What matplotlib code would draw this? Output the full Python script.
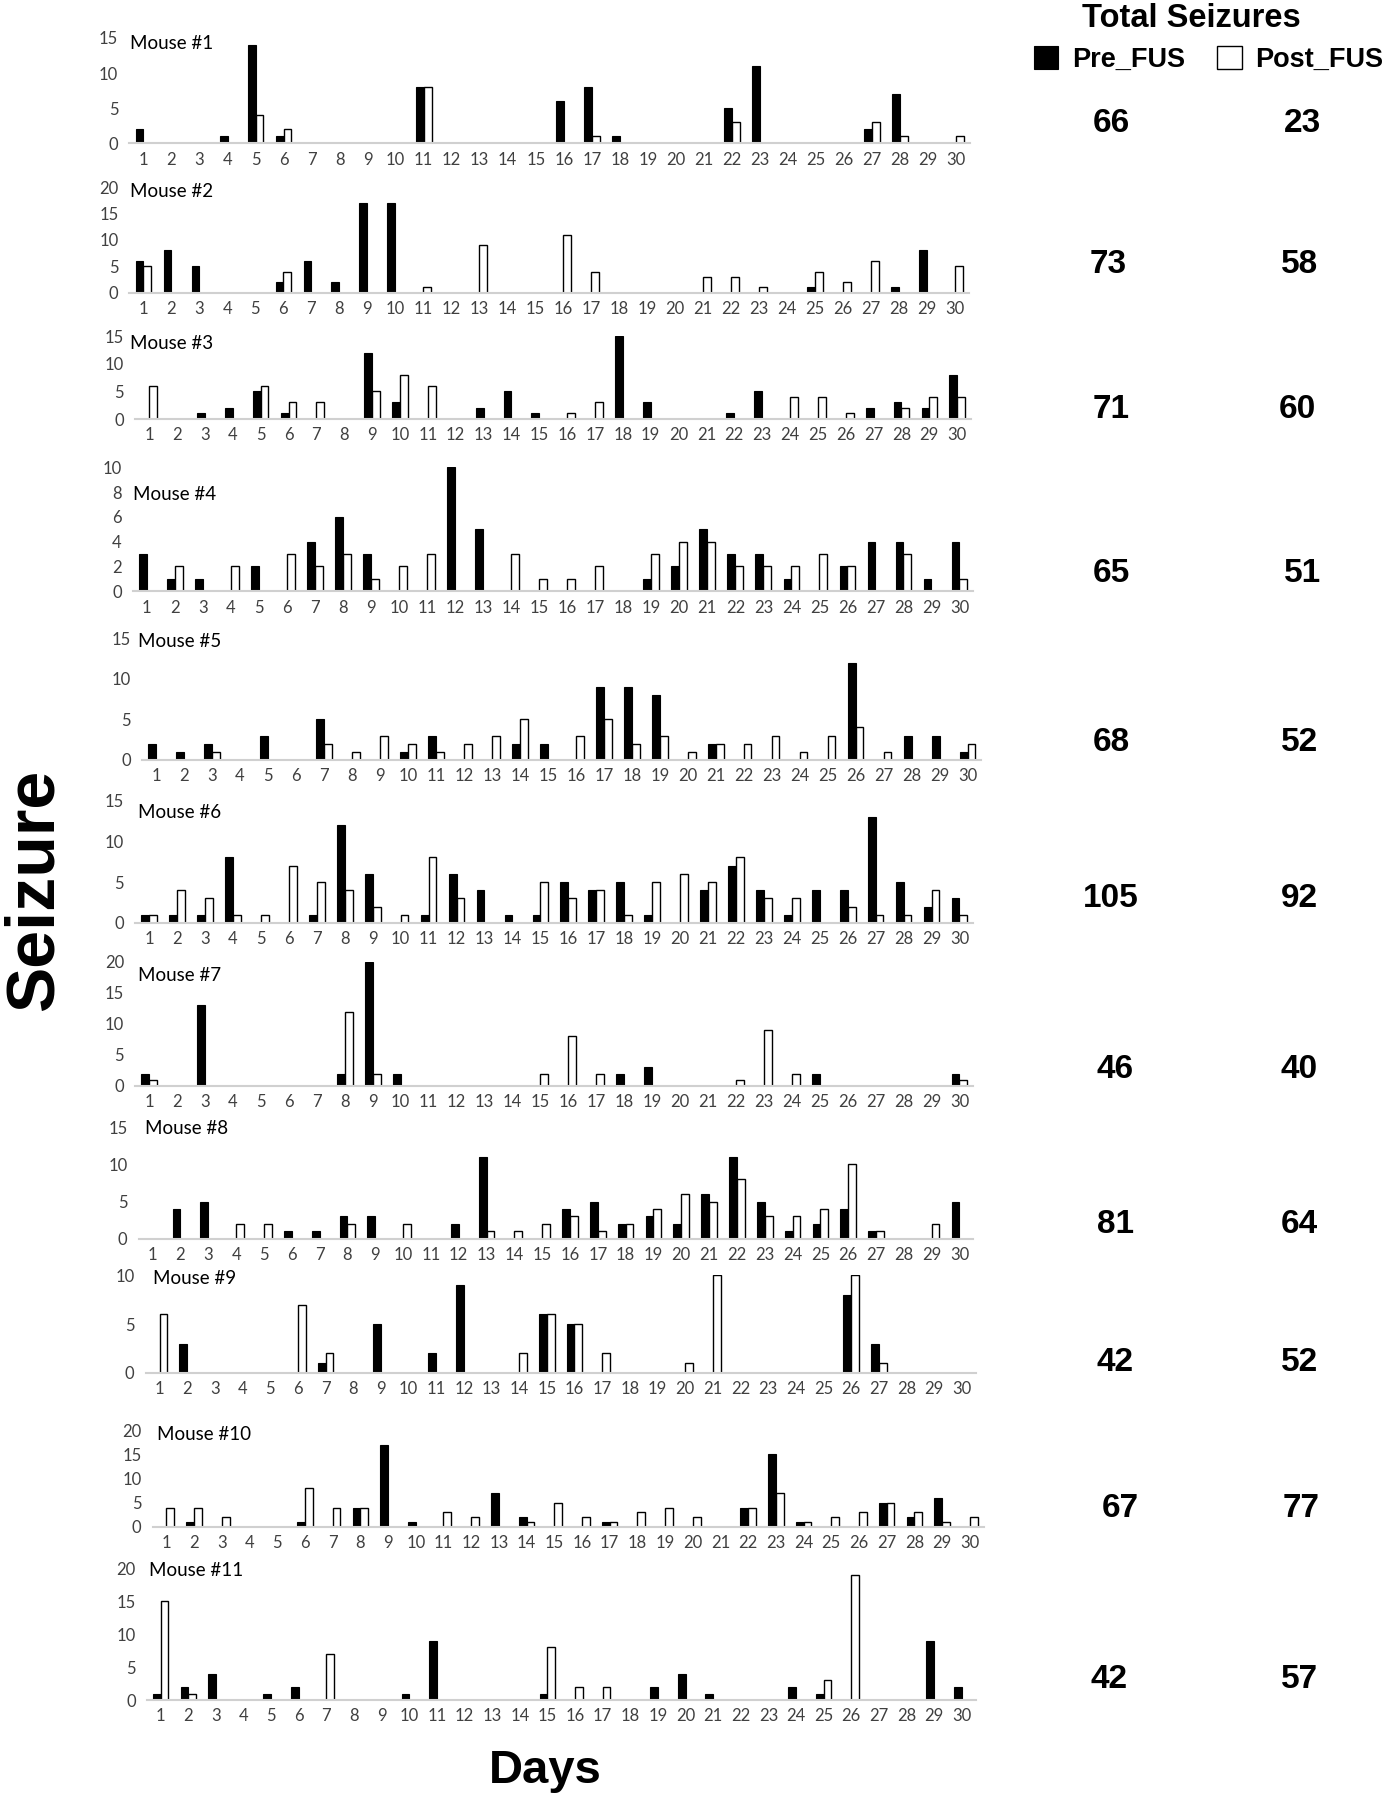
import matplotlib
matplotlib.use('Agg')
import matplotlib.pyplot as plt
import numpy as np

days = list(range(1, 31))
mice = ['Mouse #1', 'Mouse #2', 'Mouse #3', 'Mouse #4', 'Mouse #5', 'Mouse #6',
        'Mouse #7', 'Mouse #8', 'Mouse #9', 'Mouse #10', 'Mouse #11']

# daily seizure counts, day 1..30
pre_fus = [
    [2,0,0,1,14,1,0,0,0,0, 8,0,0,0,0,6,8,1,0,0, 0,5,11,0,0,0,2,7,0,0],
    [6,8,5,0,0,2,6,2,17,17, 0,0,0,0,0,0,0,0,0,0, 0,0,0,0,1,0,0,1,8,0],
    [0,0,1,2,5,1,0,0,12,3, 0,0,2,5,1,0,0,15,3,0, 0,1,5,0,0,0,2,3,2,8],
    [3,1,1,0,2,0,4,6,3,0, 0,10,5,0,0,0,0,0,1,2, 5,3,3,1,0,2,4,4,1,4],
    [2,1,2,0,3,0,5,0,0,1, 3,0,0,2,2,0,9,9,8,0, 2,0,0,0,0,12,0,3,3,1],
    [1,1,1,8,0,0,1,12,6,0, 1,6,4,1,1,5,4,5,1,0, 4,7,4,1,4,4,13,5,2,3],
    [2,0,13,0,0,0,0,2,20,2, 0,0,0,0,0,0,0,2,3,0, 0,0,0,0,2,0,0,0,0,2],
    [0,4,5,0,0,1,1,3,3,0, 0,2,11,0,0,4,5,2,3,2, 6,11,5,1,2,4,1,0,0,5],
    [0,3,0,0,0,0,1,0,5,0, 2,9,0,0,6,5,0,0,0,0, 0,0,0,0,0,8,3,0,0,0],
    [0,1,0,0,0,1,0,4,17,1, 0,0,7,2,0,0,1,0,0,0, 0,4,15,1,0,0,5,2,6,0],
    [1,2,4,0,1,2,0,0,0,1, 9,0,0,0,1,0,0,0,2,4, 1,0,0,2,1,0,0,0,9,2],
]
post_fus = [
    [0,0,0,0,4,2,0,0,0,0, 8,0,0,0,0,0,1,0,0,0, 0,3,0,0,0,0,3,1,0,1],
    [5,0,0,0,0,4,0,0,0,0, 1,0,9,0,0,11,4,0,0,0, 3,3,1,0,4,2,6,0,0,5],
    [6,0,0,0,6,3,3,0,5,8, 6,0,0,0,0,1,3,0,0,0, 0,0,0,4,4,1,0,2,4,4],
    [0,2,0,2,0,3,2,3,1,2, 3,0,0,3,1,1,2,0,3,4, 4,2,2,2,3,2,0,3,0,1],
    [0,0,1,0,0,0,2,1,3,2, 1,2,3,5,0,3,5,2,3,1, 2,2,3,1,3,4,1,0,0,2],
    [1,4,3,1,1,7,5,4,2,1, 8,3,0,0,5,3,4,1,5,6, 5,8,3,3,0,2,1,1,4,1],
    [1,0,0,0,0,0,0,12,2,0, 0,0,0,0,2,8,2,0,0,0, 0,1,9,2,0,0,0,0,0,1],
    [0,0,0,2,2,0,0,2,0,2, 0,0,1,1,2,3,1,2,4,6, 5,8,3,3,4,10,1,0,2,0],
    [6,0,0,0,0,7,2,0,0,0, 0,0,0,2,6,5,2,0,0,1, 10,0,0,0,0,10,1,0,0,0],
    [4,4,2,0,0,8,4,4,0,0, 3,2,0,1,5,2,1,3,4,2, 0,4,7,1,2,3,5,3,1,2],
    [15,1,0,0,0,0,7,0,0,0, 0,0,0,0,8,2,2,0,0,0, 0,0,0,0,3,19,0,0,0,0],
]
total_pre = [66, 73, 71, 65, 68, 105, 46, 81, 42, 67, 42]
total_post = [23, 58, 60, 51, 52, 92, 40, 64, 52, 77, 57]

y_max = [15, 20, 15, 10, 15, 15, 20, 15, 10, 20, 20]
y_step = [5, 5, 5, 2, 5, 5, 5, 5, 5, 5, 5]

# panel geometry in 1212x1568 reference pixels: x of day 1, x of day 30, y of top tick, y of zero
geom = [(125, 833, 33, 125), (125, 832, 163, 255), (130, 834, 293, 365),
        (128, 836, 407, 515), (136, 843, 556, 662), (130, 836, 697, 804),
        (130, 836, 838, 946), (133, 836, 982, 1079), (139, 838, 1111, 1196),
        (145, 845, 1246, 1330), (140, 838, 1366, 1481)]
label_pos = [(113, 38), (113, 167), (113, 299), (116, 431), (120, 559), (120, 708),
             (120, 850), (126, 983), (133, 1114), (137, 1250), (130, 1368)]
tot_pos = [(968, 1135, 108), (966, 1132, 230), (968, 1130, 357), (968, 1135, 500),
           (968, 1132, 647), (968, 1132, 783), (972, 1132, 932), (972, 1132, 1067),
           (972, 1132, 1187), (976, 1134, 1314), (966, 1132, 1463)]
W, H = 1212.0, 1568.0

fig = plt.figure(figsize=(13.91, 18), dpi=100)
fig.patch.set_facecolor('white')

bw = 0.28
x = np.array(days)
handles = None
for i in range(len(mice)):
    x1, x30, yt, y0 = geom[i]
    sp = (x30 - x1) / 29.0
    left = (x1 - 0.5 * sp) / W
    width = 30 * sp / W
    bottom = 1 - y0 / H
    height = (y0 - yt) / H
    ax = fig.add_axes([left, bottom, width, height])
    b1 = ax.bar(x - bw / 2, pre_fus[i], width=bw, color='black', edgecolor='black', linewidth=0.8)
    b2 = ax.bar(x + bw / 2, post_fus[i], width=bw, color='white', edgecolor='black', linewidth=1.0)
    if handles is None:
        handles = [b1, b2]
    ax.set_xlim(0.5, 30.5)
    ax.set_ylim(0, y_max[i])
    ax.set_xticks(days)
    ax.set_yticks(np.arange(0, y_max[i] + 1, y_step[i]))
    for s in ['top', 'right', 'left']:
        ax.spines[s].set_visible(False)
    ax.spines['bottom'].set_color('#d0d0d0')
    ax.spines['bottom'].set_linewidth(1.5)
    ax.tick_params(length=0, labelsize=12, colors='#404040')
    ax.tick_params(axis='y', pad=8)
    ax.tick_params(axis='x', pad=6)
    for lab in ax.get_xticklabels() + ax.get_yticklabels():
        lab.set_fontfamily('Lato')
    ax.patch.set_alpha(0)

    lx, ly = label_pos[i]
    fig.text(lx / W, 1 - ly / H, mice[i], fontsize=13.5, family='Lato',
             ha='left', va='center', color='black')
    px, qx, ty = tot_pos[i]
    fig.text(px / W, 1 - ty / H, str(total_pre[i]), fontsize=24, fontweight='bold',
             family='Liberation Sans', ha='center', va='center')
    fig.text(qx / W, 1 - ty / H, str(total_post[i]), fontsize=24, fontweight='bold',
             family='Liberation Sans', ha='center', va='center')

fig.text(1038 / W, 1 - 16 / H, 'Total Seizures', fontsize=23.5, fontweight='bold',
         family='Liberation Sans', ha='center', va='center')
fig.legend(handles, ['Pre_FUS', 'Post_FUS'], ncol=2, loc='center',
           bbox_to_anchor=(1053 / W, 1 - 52 / H), frameon=False,
           prop={'family': 'Liberation Sans', 'weight': 'bold', 'size': 19.5},
           handlelength=0.9, handleheight=0.9, handletextpad=0.5, columnspacing=1.2,
           borderpad=0)

fig.text(30 / W, 1 - 775 / H, 'Seizure', fontsize=49, fontweight='bold',
         family='Liberation Sans', rotation=90, ha='center', va='center')
fig.text(475 / W, 1 - 1543 / H, 'Days', fontsize=34, fontweight='bold',
         family='Liberation Sans', ha='center', va='center')

fig.savefig('out.png', dpi=100, facecolor='white')
